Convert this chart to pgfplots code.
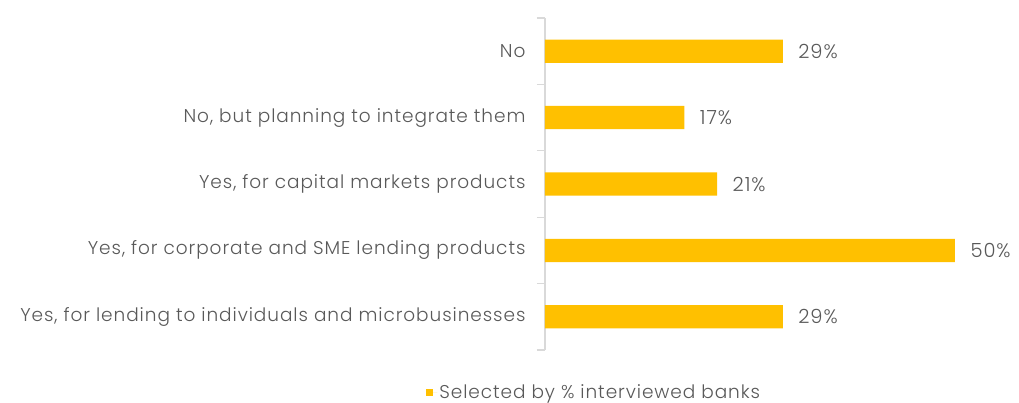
\documentclass[border=0pt]{standalone}
\usepackage{pgfplots}
\pgfplotsset{compat=1.18}
\usepackage{fontspec}
\setmainfont{Poppins}[UprightFont=* Light, LetterSpace=5]
\definecolor{barc}{HTML}{FFC000}
\definecolor{txt}{HTML}{595959}
\definecolor{axc}{HTML}{D9D9D9}
\newcommand{\lblfont}{\fontsize{18.5bp}{21bp}\selectfont}
\newcommand{\valfont}{\fontsize{19.5bp}{22bp}\selectfont}

\begin{document}
\begin{tikzpicture}
\useasboundingbox (-545bp,-53bp) rectangle (474bp,350bp);
\begin{axis}[
    at={(0,0)}, anchor=south west,
    scale only axis,
    width=410bp, height=332bp,
    xbar,
    xmin=0, xmax=50,
    ymin=-0.5, ymax=4.5,
    y dir=reverse,
    axis x line=none,
    axis y line*=left,
    y axis line style={axc, line width=1.2bp},
    xtick=\empty,
    ytick={0,...,4},
    yticklabels={No, {No, but planning to integrate them}, {Yes, for capital markets products}, {Yes, for corporate and SME lending products}, {Yes, for lending to individuals and microbusinesses}},
    major tick length=0pt,
    minor ytick={-0.5,0.5,...,4.5},
    minor tick length=8bp,
    tick align=outside,
    every tick/.style={axc, line width=1.2bp},
    yticklabel style={font=\lblfont, text=txt, xshift=-16bp},
    bar width=0.35,
    /pgf/number format/assume math mode=true,
    nodes near coords={\pgfmathprintnumber{\pgfplotspointmeta}\%},
    nodes near coords style={font=\valfont, text=txt, anchor=west, xshift=12bp},
    clip=false,
    legend style={at={(rel axis cs:0.12,-0.128)}, anchor=center, draw=none, font=\lblfont, text=txt},
]
\addplot[fill=barc, draw=none, legend image code/.code={\fill[barc] (0bp,-3.5bp) rectangle (7bp,3.5bp); \path (0bp,0bp) -- (11bp,0bp);}]
    coordinates {(29,0) (17,1) (21,2) (50,3) (29,4)};
\legend{Selected by \% interviewed banks}
\end{axis}
\end{tikzpicture}
\end{document}
